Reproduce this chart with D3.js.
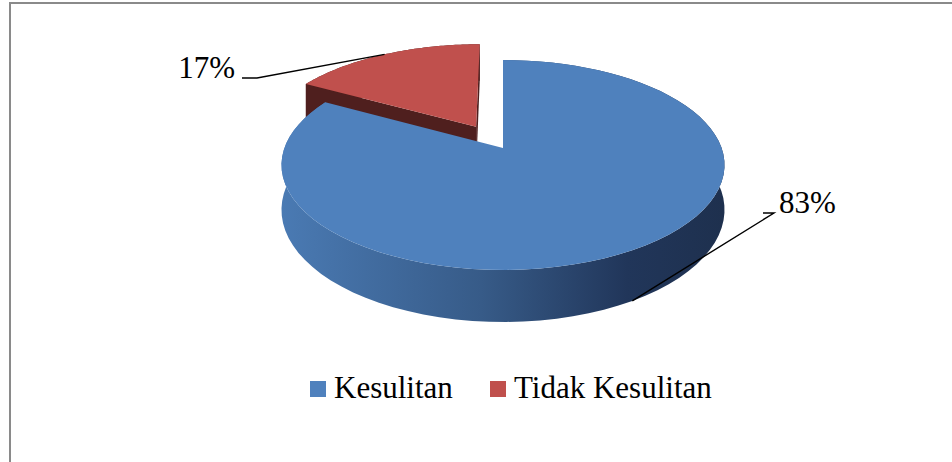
<!DOCTYPE html>
<html>
<head>
<meta charset="utf-8">
<script src="https://cdn.jsdelivr.net/npm/d3@7"></script>
<style>
  html, body { margin: 0; padding: 0; background: #fff; }
  svg { display: block; }
  text { font-family: "Times New Roman", "Liberation Serif", serif; fill: #000; }
</style>
</head>
<body>
<div id="chart"></div>
<script>
// -------- DATA --------
const categories = ["Kesulitan", "Tidak Kesulitan"];
const values = [83, 17];
const labels = ["83%", "17%"];
const colors = ["#4F81BD", "#C0504D"];
const sideColors = ["#1F3150", "#4F1F1E"];
const explode = [0, 0.25];   // explosion in radius units

// -------- LAYOUT --------
const width = 952, height = 462;
const cx = 503, cy = 148;        // projected centre of the pie
const R = 218.6, Ry = 102.2;     // horizontal / vertical radius
const persp = 0.162;             // perspective strength
const depth = 43.6;              // thickness of the pie

const svg = d3.select("#chart").append("svg")
  .attr("width", width)
  .attr("height", height);

// outer frame (runs off the right / bottom of the picture)
svg.append("rect")
  .attr("x", 10).attr("y", 3)
  .attr("width", width + 20).attr("height", height + 20)
  .attr("fill", "none")
  .attr("stroke", "#8a8a8a")
  .attr("stroke-width", 2);

// perspective projection of a point on the disc
function project(u, v, h) {
  const w = 1 - persp * v;
  return [cx + R * u / w, cy + (Ry * v + depth * h) / w];
}
function point(a, r, h, d) {
  const mid = (d.startAngle + d.endAngle) / 2;
  const off = explode[d.index];
  return project(r * Math.sin(a) + off * Math.sin(mid),
                 -r * Math.cos(a) - off * Math.cos(mid), h);
}
const arcAngles = d => d3.range(0, 81).map(i => d.startAngle + (d.endAngle - d.startAngle) * i / 80);
const line = d3.line().curve(d3.curveLinearClosed);

const pie = d3.pie().sort(null).value(d => d)(values);

// gradient for the blue side wall
const halfW = R / Math.sqrt(1 - persp * persp);
const defs = svg.append("defs");
const grad = defs.append("linearGradient")
  .attr("id", "sideBlue")
  .attr("gradientUnits", "userSpaceOnUse")
  .attr("x1", cx - halfW).attr("x2", cx + halfW)
  .attr("y1", 0).attr("y2", 0);
[[0, "#4A7AB3"], [0.45, "#375B88"], [0.78, "#21365A"], [1, "#1E304E"]].forEach(s =>
  grad.append("stop").attr("offset", s[0]).attr("stop-color", s[1]));

const gPie = svg.append("g");

// draw back slice (red) first, then front slice (blue)
const order = [1, 0];
order.forEach(i => {
  const d = pie[i];
  const angs = arcAngles(d);
  const g = gPie.append("g");
  const wallFill = i === 0 ? "url(#sideBlue)" : sideColors[i];

  // outer wall
  const wall = angs.map(a => point(a, 1, 0, d))
    .concat(angs.slice().reverse().map(a => point(a, 1, 1, d)));
  g.append("path").attr("d", line(wall)).attr("fill", wallFill);

  // radial faces (only the visible one matters for the back slice)
  if (i === 1) {
    [d.startAngle, d.endAngle].forEach(a => {
      const face = [point(0, 0, 0, d), point(a, 1, 0, d), point(a, 1, 1, d), point(0, 0, 1, d)];
      g.append("path").attr("d", line(face)).attr("fill", sideColors[i]);
    });
  }

  // top face
  const top = [point(0, 0, 0, d)].concat(angs.map(a => point(a, 1, 0, d)));
  g.append("path").attr("d", line(top)).attr("fill", colors[i]);
});

// -------- DATA LABELS WITH LEADER LINES --------
const labelPos = [
  { elbow: [774, 213], end: [763, 213], text: [779, 213], anchor: "start", h: 1 },
  { elbow: [257, 78], end: [242, 78], text: [235, 78], anchor: "end", h: 0 }
];
pie.forEach((d, i) => {
  const mid = (d.startAngle + d.endAngle) / 2;
  const p = labelPos[i];
  const a = point(mid, 1, p.h, d);
  svg.append("path")
    .attr("d", d3.line()([a, p.elbow, p.end]))
    .attr("fill", "none")
    .attr("stroke", "#000")
    .attr("stroke-width", 1.4);
  svg.append("text")
    .attr("x", p.text[0]).attr("y", p.text[1])
    .attr("text-anchor", p.anchor)
    .style("font-size", "31px")
    .text(labels[i]);
});

// -------- LEGEND --------
const legendX = [310, 490];
const legend = svg.append("g");
categories.forEach((c, i) => {
  legend.append("rect")
    .attr("x", legendX[i]).attr("y", 381)
    .attr("width", 16).attr("height", 16)
    .attr("fill", colors[i]);
  legend.append("text")
    .attr("x", legendX[i] + 24).attr("y", 398)
    .style("font-size", "31px")
    .text(c);
});
</script>
</body>
</html>
